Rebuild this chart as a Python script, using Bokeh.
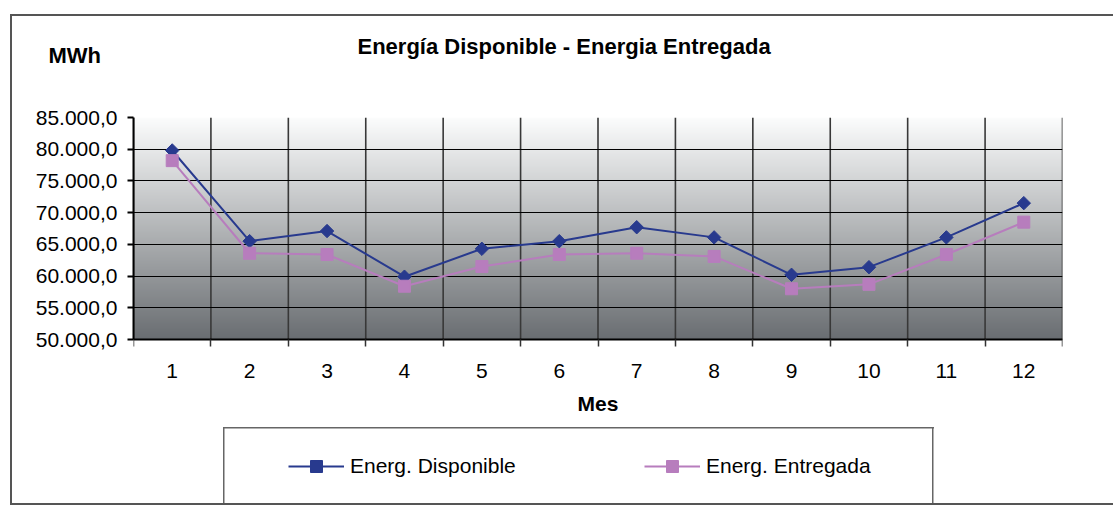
import numpy as np
from bokeh.plotting import figure
from bokeh.models import (Range1d, FixedTicker, CustomJSTickFormatter, Legend,
                          LegendItem, Title, LinearAxis)
from bokeh.embed import file_html
from bokeh.resources import INLINE

# ---------------- data ----------------
meses = list(range(1, 13))
energ_disponible = [79800, 65500, 67100, 59900, 64300, 65500,
                    67700, 66100, 60200, 61400, 66100, 71500]
energ_entregada = [78200, 63600, 63400, 58400, 61500, 63400,
                   63600, 63100, 58000, 58700, 63400, 68500]
y_ticks = [50000, 55000, 60000, 65000, 70000, 75000, 80000, 85000]
x_boundaries = [0.5 + i for i in range(13)]

title_text = "Energía Disponible - Energia Entregada"
y_label = "MWh"
x_label = "Mes"
series_names = ["Energ. Disponible", "Energ. Entregada"]

FONT = "Liberation Sans"
C_DISP = "#283a8e"
C_ENTR = "#b77dbd"
W, H = 1113, 506

# layout (pixels): plot area 133..1062 x 117..339, frame extended to canvas bottom
Y_MIN, Y_MAX = 50000, 85000
area_top, area_bottom = 117, 339
frame_bottom = H
y_start = Y_MIN - (frame_bottom - area_bottom) * (Y_MAX - Y_MIN) / (area_bottom - area_top)

# chart-area border and legend box drawn as CSS background of the figure element
line = lambda c: f"linear-gradient({c},{c})"
css_bg = ", ".join([
    f"{line('#555555')} 10px 14px / 1103px 2px no-repeat",
    f"{line('#555555')} 10px 14px / 2px 491px no-repeat",
    f"{line('#555555')} 10px 503px / 1103px 2px no-repeat",
    f"{line('#666666')} 223px 427px / 1.5px 77px no-repeat",
    f"{line('#666666')} 223px 427px / 711px 1.5px no-repeat",
    f"{line('#666666')} 932px 427px / 1.5px 77px no-repeat",
    "white",
])

p = figure(width=W, height=H, frame_width=929, frame_height=frame_bottom - area_top,
           output_backend="svg", toolbar_location=None,
           x_range=Range1d(0.5, 12.5), y_range=Range1d(y_start, Y_MAX),
           min_border_left=133, min_border_right=51, min_border_top=area_top,
           min_border_bottom=0, styles={"background": css_bg})
p.border_fill_color = None
p.background_fill_color = None
p.outline_line_color = None

# gradient background of plot area (decoration)
n = 256
t = np.linspace(0, 1, n)
top_c = np.array([252, 253, 253])
bot_c = np.array([106, 110, 114])
rgb = bot_c + (top_c - bot_c) * t[:, None]
img = np.empty((n, 2), dtype=np.uint32)
view = img.view(dtype=np.uint8).reshape((n, 2, 4))
view[:, :, 0:3] = rgb[:, None, :].astype(np.uint8)
view[:, :, 3] = 255
p.image_rgba(image=[img], x=0.5, y=Y_MIN, dw=12, dh=Y_MAX - Y_MIN, level="image")

# grids: horizontal grid lines, vertical category boundaries
p.ygrid.ticker = FixedTicker(ticks=y_ticks)
p.ygrid.grid_line_color = "black"
p.ygrid.grid_line_width = 1.2
p.xgrid.visible = False
p.segment(x0=x_boundaries, y0=[Y_MIN] * len(x_boundaries),
          x1=x_boundaries, y1=[Y_MAX] * len(x_boundaries),
          line_color="#383838", line_width=1.6, level="underlay")

# y axis
p.yaxis.ticker = FixedTicker(ticks=y_ticks)
p.yaxis.bounds = (Y_MIN, Y_MAX)
p.yaxis.formatter = CustomJSTickFormatter(code="""
const s = Math.round(tick).toString().replace(/\\B(?=(\\d{3})+(?!\\d))/g, ".");
return s + ",0";
""")
p.yaxis.major_tick_out = 6
p.yaxis.major_tick_in = 0
p.yaxis.minor_tick_line_color = None
p.yaxis.axis_line_width = 2
p.yaxis.axis_line_color = "black"
p.yaxis.major_tick_line_width = 2
p.yaxis.major_tick_line_color = "black"
p.yaxis.major_label_text_font = FONT
p.yaxis.major_label_text_font_size = "21px"
p.yaxis.major_label_text_color = "black"
p.yaxis.major_label_standoff = 10

# x axis, drawn at the bottom of the plot area
xt = FixedTicker(ticks=meses, minor_ticks=x_boundaries)
p.xaxis.ticker = xt
p.xaxis.fixed_location = Y_MIN
p.xaxis.major_tick_line_color = None
p.xaxis.major_tick_out = 0
p.xaxis.major_tick_in = 0
p.xaxis.minor_tick_out = 7
p.xaxis.minor_tick_in = 0
p.xaxis.minor_tick_line_color = "#333333"
p.xaxis.minor_tick_line_width = 1.5
p.xaxis.axis_line_width = 2
p.xaxis.axis_line_color = "black"
p.xaxis.major_label_text_font = FONT
p.xaxis.major_label_text_font_size = "21px"
p.xaxis.major_label_text_color = "black"
p.xaxis.major_label_standoff = 17
p.xaxis.axis_label = x_label
p.xaxis.axis_label_text_font = FONT
p.xaxis.axis_label_text_font_size = "21px"
p.xaxis.axis_label_text_font_style = "bold"
p.xaxis.axis_label_text_color = "black"
p.xaxis.axis_label_standoff = 11

# spacer above the plot area (an axis with one hidden tick), then "MWh", then the title
spacer = LinearAxis(ticker=FixedTicker(ticks=[6.5]), axis_line_color=None,
                    major_tick_line_color=None, minor_tick_line_color=None,
                    major_tick_out=56, major_tick_in=0, minor_tick_out=0,
                    minor_tick_in=0, major_label_standoff=0,
                    major_label_overrides={6.5: ""},
                    major_label_text_font_size="1px", major_label_text_alpha=0)
p.add_layout(spacer, "above")
p.add_layout(Title(text=y_label, align="left", offset=-85, vertical_align="top",
                   standoff=-16, text_font=FONT, text_font_size="22px",
                   text_font_style="bold", text_color="black"), "above")
p.title = Title(text=title_text, align="left", offset=224, vertical_align="bottom",
                standoff=-16, text_font=FONT, text_font_size="22px",
                text_font_style="bold", text_color="black")

# series
r1l = p.line(meses, energ_disponible, line_color=C_DISP, line_width=2)
r1m = p.scatter(meses, energ_disponible, marker="square", angle=np.pi / 4,
                size=9.5, fill_color=C_DISP, line_color=C_DISP)
r2l = p.line(meses, energ_entregada, line_color=C_ENTR, line_width=2)
r2m = p.scatter(meses, energ_entregada, marker="square", size=12,
                fill_color=C_ENTR, line_color=C_ENTR)

legend = Legend(items=[LegendItem(label=series_names[0], renderers=[r1l, r1m]),
                       LegendItem(label=series_names[1], renderers=[r2l, r2m])],
                location=(155, 25), orientation="horizontal",
                glyph_width=56, glyph_height=30, label_standoff=6,
                label_width=200, spacing=94, padding=10, margin=0,
                border_line_color=None, background_fill_alpha=0,
                label_text_font=FONT, label_text_font_size="21px",
                label_text_color="black")
p.add_layout(legend)

open("out.html", "w").write(file_html(p, INLINE))
